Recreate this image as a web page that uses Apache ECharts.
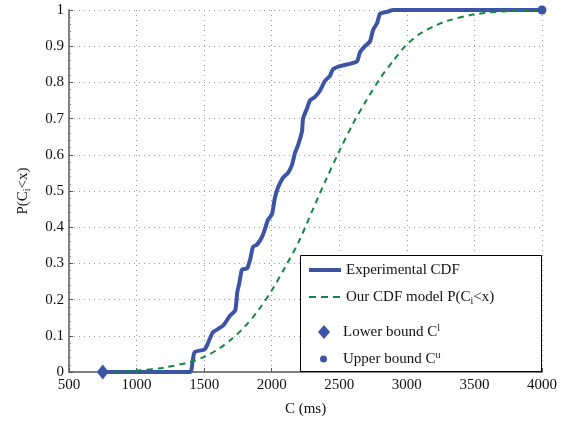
<!DOCTYPE html>
<html>
<head>
<meta charset="utf-8">
<script src="https://cdn.jsdelivr.net/npm/echarts@6/dist/echarts.min.js"></script>
<style>
  html, body { margin: 0; padding: 0; background: #fff; }
  #chart { width: 574px; height: 422px; }
</style>
</head>
<body>
<div id="chart"></div>
<script>
// experimental CDF
var expX = [750, 1395, 1415, 1430, 1505, 1540, 1566, 1640, 1690, 1730, 1745, 1760, 1780, 1817, 1840, 1862, 1891, 1928, 1950, 1972, 2002, 2024, 2047, 2084, 2121, 2150, 2172, 2195, 2224, 2232, 2261, 2283, 2320, 2357, 2394, 2431, 2453, 2505, 2565, 2631, 2653, 2690, 2727, 2750, 2780, 2802, 2853, 2900, 4000];
var expY = [0, 0, 0.03, 0.055, 0.063, 0.09, 0.11, 0.128, 0.155, 0.17, 0.22, 0.245, 0.283, 0.286, 0.31, 0.346, 0.352, 0.373, 0.395, 0.42, 0.436, 0.482, 0.51, 0.537, 0.55, 0.572, 0.605, 0.627, 0.665, 0.70, 0.728, 0.75, 0.76, 0.777, 0.804, 0.818, 0.836, 0.845, 0.85, 0.858, 0.883, 0.90, 0.913, 0.945, 0.964, 0.99, 0.995, 1, 1];

// model CDF
var modelX = [750, 1000, 1200, 1400, 1500, 1600, 1700, 1800, 1900, 2000, 2100, 2200, 2300, 2400, 2500, 2600, 2700, 2800, 2900, 3000, 3100, 3200, 3300, 3500, 3750, 4000];
var modelY = [0, 0.004, 0.012, 0.028, 0.042, 0.062, 0.09, 0.125, 0.17, 0.225, 0.29, 0.36, 0.445, 0.53, 0.61, 0.685, 0.75, 0.81, 0.86, 0.905, 0.935, 0.955, 0.97, 0.988, 0.997, 1];

var lowerBound = [750, 0];
var upperBound = [4000, 1];

var blue = '#3b54a5';
var green = '#12883c';
var font = 'Liberation Serif';

function pairs(xs, ys) {
    var res = [];
    for (var i = 0; i < xs.length; i++) {
        res.push([xs[i], ys[i]]);
    }
    return res;
}

var rich = {
    sub: { fontSize: 10, fontFamily: font, lineHeight: 10, padding: [8, 0, 0, 0], verticalAlign: 'bottom', color: '#111' },
    sup: { fontSize: 10, fontFamily: font, lineHeight: 10, padding: [0, 0, 8, 0], verticalAlign: 'bottom', color: '#111' }
};
var legendNames = {
    'exp': 'Experimental CDF',
    'model': 'Our CDF model P(C{sub|i}<x)',
    'lower': 'Lower bound C{sup|l}',
    'upper': 'Upper bound C{sup|u}'
};
function legendText(name) { return legendNames[name]; }

var myChart = echarts.init(document.getElementById('chart'));
var option = {
    animation: false,
    textStyle: { fontFamily: font },
    grid: { left: 69, right: 32, top: 10, bottom: 45 },
    xAxis: {
        type: 'value',
        min: 500,
        max: 4000,
        interval: 500,
        name: 'C (ms)',
        nameLocation: 'middle',
        nameGap: 30,
        nameTextStyle: { fontSize: 15, color: '#111', fontFamily: font },
        axisLine: { lineStyle: { color: '#808080', width: 2 } },
        axisTick: { inside: true, length: 4, lineStyle: { color: '#555' } },
        axisLabel: {
            fontSize: 15, color: '#111', fontFamily: font, margin: 6,
            formatter: function (v) { return String(v); }
        },
        splitLine: { show: true, lineStyle: { color: '#999', type: [1, 4], width: 1 } }
    },
    yAxis: {
        type: 'value',
        min: 0,
        max: 1,
        interval: 0.1,
        name: 'P(C{sub|i}<x)',
        nameLocation: 'middle',
        nameRotate: 90,
        nameGap: 37,
        nameTextStyle: { fontSize: 15, color: '#111', fontFamily: font, rich: rich, lineHeight: 18 },
        axisLine: { show: true, lineStyle: { color: '#808080', width: 2 } },
        axisTick: { show: true, inside: true, length: 4, lineStyle: { color: '#555' } },
        minorTick: { show: true, splitNumber: 5, length: 2, lineStyle: { color: '#888' } },
        axisLabel: {
            fontSize: 15, color: '#111', fontFamily: font, margin: 5,
            formatter: function (v) { return String(+v.toFixed(1)); }
        },
        splitLine: { show: true, lineStyle: { color: '#999', type: [1, 4], width: 1 } }
    },
    legend: [
        {
            data: [
                { name: 'exp', lineStyle: { width: 4, color: blue } },
                { name: 'model', lineStyle: { width: 2, color: green, type: [7, 5] } }
            ],
            orient: 'vertical',
            left: 307,
            top: 261,
            padding: 0,
            itemWidth: 32,
            itemHeight: 12,
            itemGap: 9,
            itemStyle: { opacity: 0 },
            formatter: legendText,
            textStyle: { fontSize: 15, color: '#111', fontFamily: font, lineHeight: 18, rich: rich },
            z: 10
        },
        {
            data: [{ name: 'lower', icon: 'diamond' }],
            left: 318,
            top: 323,
            padding: 0,
            itemWidth: 12,
            itemHeight: 14,
            itemStyle: { color: blue, opacity: 1 },
            formatter: legendText,
            textStyle: { fontSize: 15, color: '#111', fontFamily: font, lineHeight: 18, rich: rich, padding: [0, 0, 0, 8] },
            z: 10
        },
        {
            data: [{ name: 'upper', icon: 'circle' }],
            left: 320,
            top: 350,
            padding: 0,
            itemWidth: 7,
            itemHeight: 7,
            itemStyle: { color: blue, opacity: 1 },
            formatter: legendText,
            textStyle: { fontSize: 15, color: '#111', fontFamily: font, lineHeight: 18, rich: rich, padding: [0, 0, 0, 11] },
            z: 10
        }
    ],
    graphic: [
        {
            type: 'rect',
            shape: { x: 300.5, y: 255.5, width: 241, height: 116 },
            style: { fill: '#fff', stroke: '#000', lineWidth: 1 },
            z: 5
        }
    ],
    series: [
        {
            name: 'exp',
            type: 'line',
            data: pairs(expX, expY),
            symbol: 'none',
            clip: false,
            smooth: 0.2,
            lineStyle: { color: blue, width: 4 },
            itemStyle: { color: blue },
            z: 3
        },
        {
            name: 'model',
            type: 'line',
            data: pairs(modelX, modelY),
            symbol: 'none',
            clip: false,
            smooth: 0.3,
            lineStyle: { color: green, width: 2, type: [6, 5] },
            itemStyle: { color: green },
            z: 4
        },
        {
            name: 'lower',
            type: 'scatter',
            data: [lowerBound],
            symbol: 'diamond',
            symbolSize: [12, 15],
            clip: false,
            itemStyle: { color: blue, opacity: 1 },
            z: 6
        },
        {
            name: 'upper',
            type: 'scatter',
            data: [upperBound],
            symbol: 'circle',
            symbolSize: 9,
            clip: false,
            itemStyle: { color: blue, opacity: 1 },
            z: 6
        }
    ]
};
myChart.setOption(option);
</script>
</body>
</html>
